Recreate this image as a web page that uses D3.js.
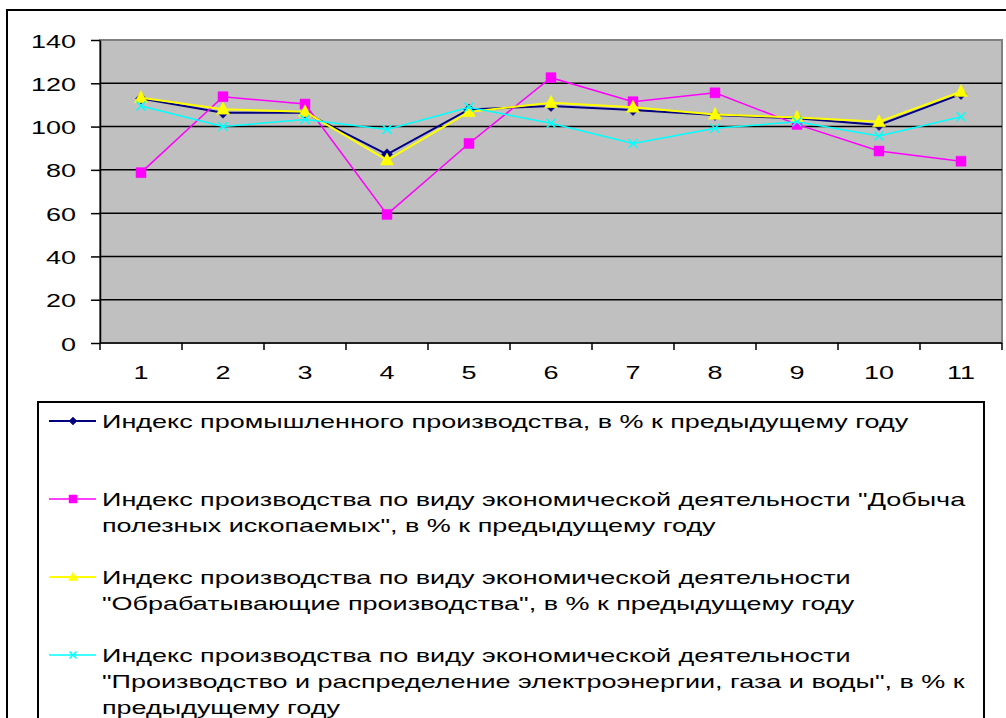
<!DOCTYPE html>
<html>
<head>
<meta charset="utf-8">
<script src="https://cdn.jsdelivr.net/npm/d3@7"></script>
<style>
  html, body { margin: 0; padding: 0; background: #fff; overflow: hidden; }
  svg { display: block; }
</style>
</head>
<body>
<svg id="chart"></svg>
<script>
const categories = ['1', '2', '3', '4', '5', '6', '7', '8', '9', '10', '11'];
const yTicks = [0, 20, 40, 60, 80, 100, 120, 140];

const industrial = [113, 106.4, 106.4, 87.2, 107.9, 109.5, 107.6, 105.3, 103.8, 100.7, 115];
const mining = [78.7, 113.8, 110.4, 59.4, 92.2, 122.6, 111.5, 115.6, 101, 88.7, 84];
const manufacturing = [113.3, 108, 106.8, 84.5, 106.8, 111, 108.9, 105.6, 104.2, 102.2, 116.1];
const utilities = [109.5, 100, 103.3, 98.7, 108.9, 101.5, 92.2, 99.2, 102.2, 95.6, 104.5];

const legendLines = [
  ['Индекс промышленного производства, в % к предыдущему году'],
  ['Индекс производства по виду экономической деятельности "Добыча',
   'полезных ископаемых", в % к предыдущему году'],
  ['Индекс производства по виду экономической деятельности',
   '"Обрабатывающие производства", в % к предыдущему году'],
  ['Индекс производства по виду экономической деятельности',
   '"Производство и распределение электроэнергии, газа и воды", в % к',
   'предыдущему году']
];

const series = [
  { values: industrial, color: '#000080', width: 2, marker: 'diamond' },
  { values: mining, color: '#FF00FF', width: 1.5, marker: 'square' },
  { values: manufacturing, color: '#FFFF00', width: 2, marker: 'triangle' },
  { values: utilities, color: '#00FFFF', width: 1.5, marker: 'cross' }
];

const W = 1006, H = 718;
const FONT = '"Liberation Sans", Arial, sans-serif';
const FS = 19;
const SX = 1.42; // the original text is drawn horizontally stretched

const svg = d3.select('#chart').attr('width', W).attr('height', H);

// outer chart frame (cut off at right and bottom)
svg.append('rect')
  .attr('x', 7).attr('y', 10)
  .attr('width', W + 20).attr('height', H + 20)
  .attr('fill', '#fff')
  .attr('stroke', '#000')
  .attr('stroke-width', 2);

const plot = { left: 100, top: 40, right: 1002, bottom: 343 };

const x = d3.scaleBand()
  .domain(categories)
  .range([plot.left, plot.right])
  .padding(0);

const y = d3.scaleLinear()
  .domain([0, 140])
  .range([plot.bottom, plot.top]);

function stretchedText(parent, tx, ty, str, anchor, size) {
  return parent.append('text')
    .attr('transform', `translate(${tx},${ty}) scale(${SX},1)`)
    .attr('text-anchor', anchor)
    .attr('font-family', FONT)
    .attr('font-size', (size || FS) + 'px')
    .attr('fill', '#000')
    .text(str);
}

// plot background
svg.append('rect')
  .attr('x', plot.left).attr('y', plot.top)
  .attr('width', plot.right - plot.left)
  .attr('height', plot.bottom - plot.top)
  .attr('fill', '#C0C0C0')
  .attr('stroke', '#808080')
  .attr('stroke-width', 2);

// horizontal gridlines
svg.selectAll('.grid')
  .data(yTicks.filter(d => d > 0 && d < 140))
  .enter()
  .append('line')
  .attr('class', 'grid')
  .attr('x1', plot.left).attr('x2', plot.right)
  .attr('y1', d => y(d)).attr('y2', d => y(d))
  .attr('stroke', '#000')
  .attr('stroke-width', 1.5);

// y axis
const yAxis = d3.axisLeft(y)
  .tickValues(yTicks)
  .tickSize(9)
  .tickSizeOuter(0)
  .tickFormat(d3.format('d'));

const yG = svg.append('g')
  .attr('transform', `translate(${plot.left},0)`)
  .call(yAxis);
yG.select('.domain').attr('stroke', '#000').attr('stroke-width', 1.5);
yG.selectAll('.tick line').attr('stroke', '#000').attr('stroke-width', 1.5);
yG.selectAll('.tick text').remove();
yG.selectAll('.tick').each(function(d) {
  stretchedText(d3.select(this), -24, 7, d3.format('d')(d), 'end');
});

// x axis: ticks at category boundaries, labels at centres
const xG = svg.append('g');
xG.append('line')
  .attr('x1', plot.left).attr('x2', plot.right)
  .attr('y1', plot.bottom).attr('y2', plot.bottom)
  .attr('stroke', '#000').attr('stroke-width', 1.5);

const boundaries = categories.map(c => x(c)).concat([x(categories[categories.length - 1]) + x.bandwidth()]);
xG.selectAll('.xtick')
  .data(boundaries)
  .enter()
  .append('line')
  .attr('class', 'xtick')
  .attr('x1', d => d).attr('x2', d => d)
  .attr('y1', plot.bottom).attr('y2', plot.bottom + 7)
  .attr('stroke', '#000').attr('stroke-width', 1.5);

categories.forEach(c => {
  stretchedText(xG, x(c) + x.bandwidth() / 2, 379, c, 'middle');
});

// marker paths
function markerPath(type, s) {
  const h = s / 2;
  if (type === 'diamond') return `M0,${-h}L${h},0L0,${h}L${-h},0Z`;
  if (type === 'square') return `M${-h},${-h}H${h}V${h}H${-h}Z`;
  if (type === 'triangle') return `M0,${-h * 1.1}L${h},${h * 0.75}L${-h},${h * 0.75}Z`;
  return `M${-h},${-h}L${h},${h}M${-h},${h}L${h},${-h}`;
}

const markerSize = { diamond: 11, square: 10, triangle: 13, cross: 9 };
const legendMarkerSize = { diamond: 8, square: 8, triangle: 9, cross: 7 };

const line = d3.line()
  .x((d, i) => x(categories[i]) + x.bandwidth() / 2)
  .y(d => y(d));

series.forEach(s => {
  const g = svg.append('g');
  g.append('path')
    .attr('d', line(s.values))
    .attr('fill', 'none')
    .attr('stroke', s.color)
    .attr('stroke-width', s.width);

  g.selectAll('.marker')
    .data(s.values)
    .enter()
    .append('path')
    .attr('class', 'marker')
    .attr('transform', (d, i) => `translate(${x(categories[i]) + x.bandwidth() / 2},${y(d)})`)
    .attr('d', markerPath(s.marker, markerSize[s.marker]))
    .attr('fill', s.marker === 'cross' ? 'none' : s.color)
    .attr('stroke', s.color)
    .attr('stroke-width', s.marker === 'cross' ? 1.5 : 0.5);
});

// legend
const legend = { left: 38, top: 402, right: 984 };
svg.append('rect')
  .attr('x', legend.left).attr('y', legend.top)
  .attr('width', legend.right - legend.left)
  .attr('height', H + 20 - legend.top)
  .attr('fill', '#fff')
  .attr('stroke', '#000')
  .attr('stroke-width', 2);

const entryStep = 78;
const lineStep = 26;
series.forEach((s, i) => {
  const cy = 421 + i * entryStep;
  const g = svg.append('g');
  g.append('line')
    .attr('x1', 49).attr('x2', 96)
    .attr('y1', cy).attr('y2', cy)
    .attr('stroke', s.color)
    .attr('stroke-width', s.width);
  g.append('path')
    .attr('transform', `translate(73,${cy})`)
    .attr('d', markerPath(s.marker, legendMarkerSize[s.marker]))
    .attr('fill', s.marker === 'cross' ? 'none' : s.color)
    .attr('stroke', s.color)
    .attr('stroke-width', s.marker === 'cross' ? 1.5 : 0.5);
  legendLines[i].forEach((t, j) => {
    stretchedText(g, 102, cy + 7 + j * lineStep, t, 'start');
  });
});
</script>
</body>
</html>
